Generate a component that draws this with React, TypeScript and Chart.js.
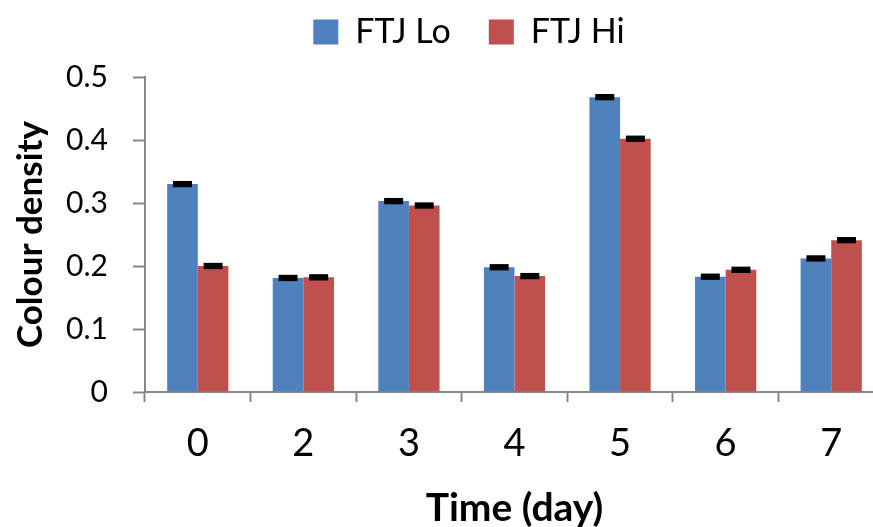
import React, { useEffect, useRef } from "react";
import { Chart, registerables } from "chart.js";

Chart.register(...registerables);

const categories = ["0", "2", "3", "4", "5", "6", "7"];
const ftjLo = [0.33, 0.181, 0.303, 0.198, 0.468, 0.183, 0.212];
const ftjHi = [0.2, 0.182, 0.296, 0.184, 0.402, 0.194, 0.241];
const errLo = [0.005, 0.005, 0.005, 0.005, 0.005, 0.005, 0.005];
const errHi = [0.005, 0.005, 0.005, 0.005, 0.005, 0.005, 0.005];
const yTicks = [0, 0.1, 0.2, 0.3, 0.4, 0.5];

const FONT = "Lato, 'Open Sans', sans-serif";
const LEGEND_PAD = 38;

const errorBarPlugin = {
  id: "errorBars",
  afterDatasetsDraw(chart: any) {
    const ctx = chart.ctx;
    const yScale = chart.scales.y;
    const errs = [errLo, errHi];
    chart.data.datasets.forEach((ds: any, di: number) => {
      const meta = chart.getDatasetMeta(di);
      meta.data.forEach((el: any, i: number) => {
        const v = ds.data[i];
        const e = errs[di][i];
        const yTop = yScale.getPixelForValue(v + e);
        const yBot = yScale.getPixelForValue(v - e);
        const w = el.width * 0.62;
        ctx.save();
        ctx.fillStyle = "#000";
        ctx.fillRect(el.x - w / 2, yTop, w, Math.max(yBot - yTop, 4));
        ctx.restore();
      });
    });
  },
};

const layoutPlugin = {
  id: "layoutTweaks",
  beforeInit(chart: any) {
    const lg = chart.legend;
    if (lg && !lg.__wrapped) {
      const orig = lg.fit.bind(lg);
      lg.fit = function () {
        orig();
        this.height = 77;
      };
      lg.__wrapped = true;
    }
  },
  afterLayout(chart: any) {
    const lg = chart.legend;
    if (lg) {
      lg.left += 22;
      lg.right += 22;
      lg.top = 32 - LEGEND_PAD - 17;
      lg.bottom = lg.top + 77;
    }
  },
};

export default function App() {
  const ref = useRef<HTMLCanvasElement | null>(null);
  useEffect(() => {
    document.body.style.margin = "0";
    const chart = new Chart(ref.current!, {
      type: "bar",
      data: {
        labels: categories,
        datasets: [
          {
            label: "FTJ Lo",
            data: ftjLo,
            backgroundColor: "#4F81BD",
            borderWidth: 0,
            categoryPercentage: 0.58,
            barPercentage: 1,
          },
          {
            label: "FTJ Hi",
            data: ftjHi,
            backgroundColor: "#C0504D",
            borderWidth: 0,
            categoryPercentage: 0.58,
            barPercentage: 1,
          },
        ],
      },
      options: {
        animation: false,
        responsive: false,
        layout: { padding: { left: 10, right: 2, top: 0, bottom: 4 } },
        plugins: {
          legend: {
            position: "top",
            labels: {
              boxWidth: 25,
              boxHeight: 25,
              color: "#000",
              font: { family: FONT, size: 34 },
              padding: LEGEND_PAD,
            },
          },
          tooltip: { enabled: false },
        },
        scales: {
          x: {
            offset: true,
            afterFit(scale: any) {
              scale.height = 527 - 392 - 4;
            },
            grid: {
              offset: true,
              drawOnChartArea: false,
              color: "#888",
              tickLength: 10,
              tickWidth: 2,
            },
            border: { color: "#888", width: 2 },
            ticks: {
              color: "#000",
              font: { family: FONT, size: 38 },
              padding: 19,
            },
            title: {
              display: true,
              text: "Time (day)",
              color: "#000",
              font: { family: FONT, size: 39, weight: "bold", lineHeight: 1 },
              padding: { top: 0, bottom: -5 },
            },
          },
          y: {
            min: 0,
            max: 0.5,
            afterFit(scale: any) {
              scale.width = 135;
            },
            afterBuildTicks(scale: any) {
              scale.ticks = yTicks.map((v) => ({ value: v }));
            },
            grid: {
              drawOnChartArea: false,
              color: "#888",
              tickLength: 12,
              tickWidth: 2,
            },
            border: { color: "#888", width: 2 },
            ticks: {
              color: "#000",
              font: { family: FONT, size: 30 },
              padding: 25,
              callback: (v: any) => (v === 0 ? "0" : Number(v).toFixed(1)),
            },
            title: {
              display: true,
              text: "Colour density",
              color: "#000",
              font: { family: FONT, size: 35, weight: "bold", lineHeight: 1 },
              padding: { top: 3, bottom: 0 },
            },
          },
        },
      },
      plugins: [errorBarPlugin, layoutPlugin],
    } as any);
    return () => chart.destroy();
  }, []);
  return (
    <div style={{ position: "absolute", left: 0, top: 0, width: 873, height: 527, overflow: "hidden" }}>
      <canvas ref={ref} width={886} height={527} style={{ display: "block" }} />
    </div>
  );
}
